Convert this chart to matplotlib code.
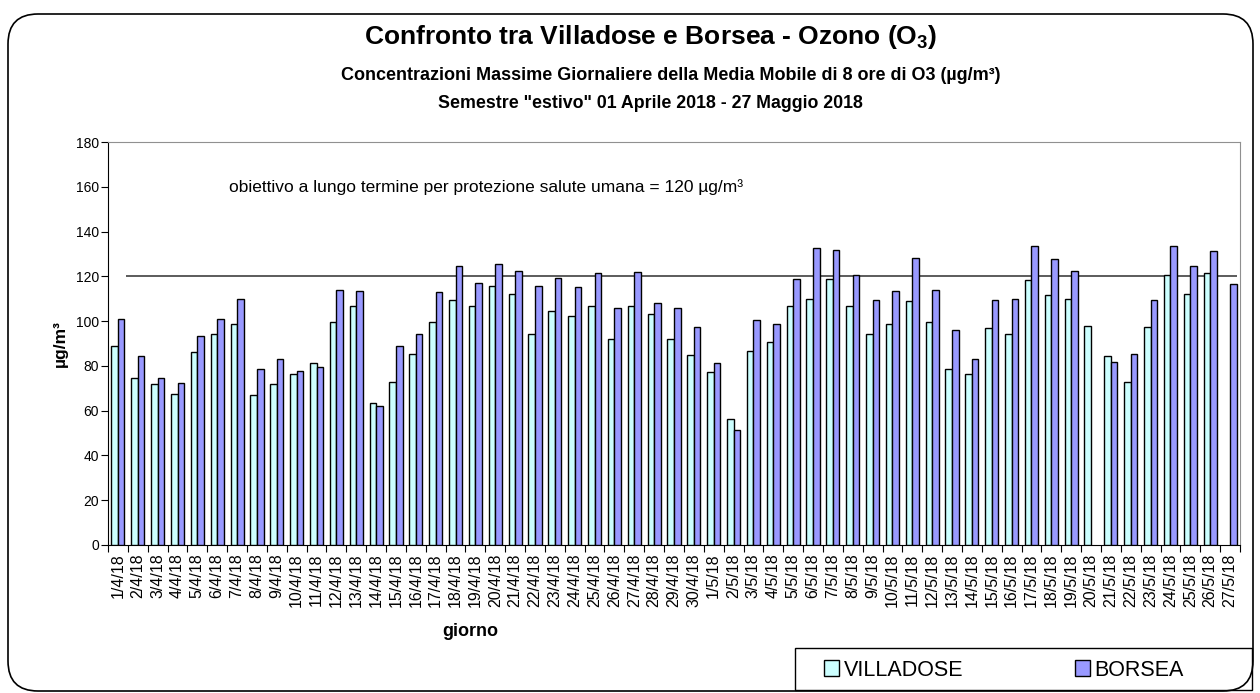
import numpy as np
import matplotlib
matplotlib.use("Agg")
import matplotlib.pyplot as plt
from matplotlib.patches import FancyBboxPatch, Patch, Rectangle

plt.rcParams["font.family"] = ["Liberation Sans", "DejaVu Sans"]
plt.rcParams["mathtext.default"] = "regular"

# giorni 1/4/18 ... 27/5/18
giorni = [f"{d}/4/18" for d in range(1, 31)] + [f"{d}/5/18" for d in range(1, 28)]

villadose = [
    89.0, 74.7, 71.7, 67.5, 86.0, 94.4, 98.5, 66.9, 71.7, 76.5,
    81.1, 99.7, 106.9, 63.4, 72.9, 85.4, 99.7, 109.3, 106.9, 115.8,
    112.3, 94.4, 104.7, 102.1, 106.9, 92.0, 106.9, 103.2, 92.0, 84.8,
    77.1, 56.2, 86.6, 90.8, 106.9, 109.9, 118.8, 106.9, 94.4, 98.5,
    108.8, 99.7, 78.7, 76.5, 96.8, 94.4, 118.2, 111.7, 109.9, 97.9,
    84.2, 72.9, 97.3, 120.6, 112.3, 121.3, np.nan,
]
borsea = [
    100.9, 84.2, 74.5, 72.3, 93.2, 100.9, 109.9, 78.7, 83.0, 77.5,
    79.6, 114.0, 113.4, 62.2, 89.0, 94.4, 112.9, 124.8, 117.0, 125.5,
    122.4, 115.8, 119.4, 115.2, 121.3, 105.7, 121.8, 108.1, 105.7, 97.3,
    81.1, 51.3, 100.5, 98.5, 118.8, 132.5, 131.9, 120.6, 109.3, 113.4,
    128.4, 114.0, 96.2, 83.0, 109.3, 109.9, 133.7, 127.8, 122.4, np.nan,
    81.8, 85.4, 109.3, 133.7, 124.8, 131.3, 116.4,
]
obiettivo = 120
y_ticks = list(range(0, 181, 20))

C_VILL = "#CCFFFF"
C_BORS = "#9999FF"

W, H = 1260, 693
fig = plt.figure(figsize=(W / 100, H / 100), dpi=100)
ax = fig.add_axes([108 / W, 1 - 545 / H, (1240 - 108) / W, (545 - 142) / H])

x = np.arange(len(giorni))
w = 0.33
ax.bar(x - w / 2, villadose, w, color=C_VILL, edgecolor="black", linewidth=1.0, zorder=3)
ax.bar(x + w / 2, borsea, w, color=C_BORS, edgecolor="black", linewidth=1.0, zorder=3)

# linea obiettivo a lungo termine
ax.hlines(obiettivo, x[0] + 0.4, x[-1] + 0.35, color="#404040", linewidth=1.2, zorder=2)
ax.text(5.6, 160, "obiettivo a lungo termine per protezione salute umana = 120 µg/m³",
        fontsize=12.5, va="center", ha="left")

ax.set_xlim(-0.5, len(giorni) - 0.5)
ax.set_ylim(0, 180)
ax.set_yticks(y_ticks)
ax.tick_params(axis="y", direction="out", length=5, labelsize=10, pad=1.5)

ax.set_xticks(np.arange(len(giorni) + 1) - 0.5)
ax.set_xticklabels([])
ax.set_xticks(x, minor=True)
ax.set_xticklabels(giorni, minor=True, rotation=90, fontsize=11.5)
ax.tick_params(axis="x", which="major", direction="out", length=5)
ax.tick_params(axis="x", which="minor", length=0, pad=6)

for s in ("top", "right"):
    ax.spines[s].set_color("#909090")
ax.spines["left"].set_color("black")
ax.spines["bottom"].set_color("black")

ax.set_ylabel("µg/m³", fontsize=12.5, fontweight="bold", labelpad=6)

fig.text(0.516, 1 - 37 / H, "Confronto tra Villadose e Borsea - Ozono (O$_3$)",
         ha="center", va="center", fontsize=19, fontweight="bold")
fig.text(0.532, 1 - 75 / H,
         "Concentrazioni Massime Giornaliere della Media Mobile di 8 ore di O3 (µg/m³)",
         ha="center", va="center", fontsize=13, fontweight="bold")
fig.text(0.516, 1 - 103 / H, 'Semestre "estivo" 01 Aprile 2018 - 27 Maggio 2018',
         ha="center", va="center", fontsize=12.8, fontweight="bold")
fig.text(470 / W, 1 - 632 / H, "giorno", ha="center", va="center",
         fontsize=13, fontweight="bold")

# legenda con cornice rettangolare
fig.patches.append(Rectangle((795 / W, 1 - 690 / H), (1252 - 795) / W, 42 / H,
                             transform=fig.transFigure, fill=False,
                             edgecolor="black", linewidth=1.0))
handles = [Patch(facecolor=C_VILL, edgecolor="black", label="VILLADOSE"),
           Patch(facecolor=C_BORS, edgecolor="black", label="BORSEA")]
fig.legend(handles=handles, loc="center left", bbox_to_anchor=(0.6387, 1 - 670 / H),
           ncol=2, fontsize=15.5, frameon=False,
           handlelength=0.7, handleheight=0.7, handletextpad=0.2,
           columnspacing=5.2, borderpad=0.4)

# cornice arrotondata del grafico
border = FancyBboxPatch((0.08, 0.02), 12.45, 6.77,
                        boxstyle="round,pad=0,rounding_size=0.3",
                        transform=fig.dpi_scale_trans, fill=False,
                        edgecolor="black", linewidth=1.2)
fig.patches.append(border)

fig.savefig("out.png", dpi=100)
